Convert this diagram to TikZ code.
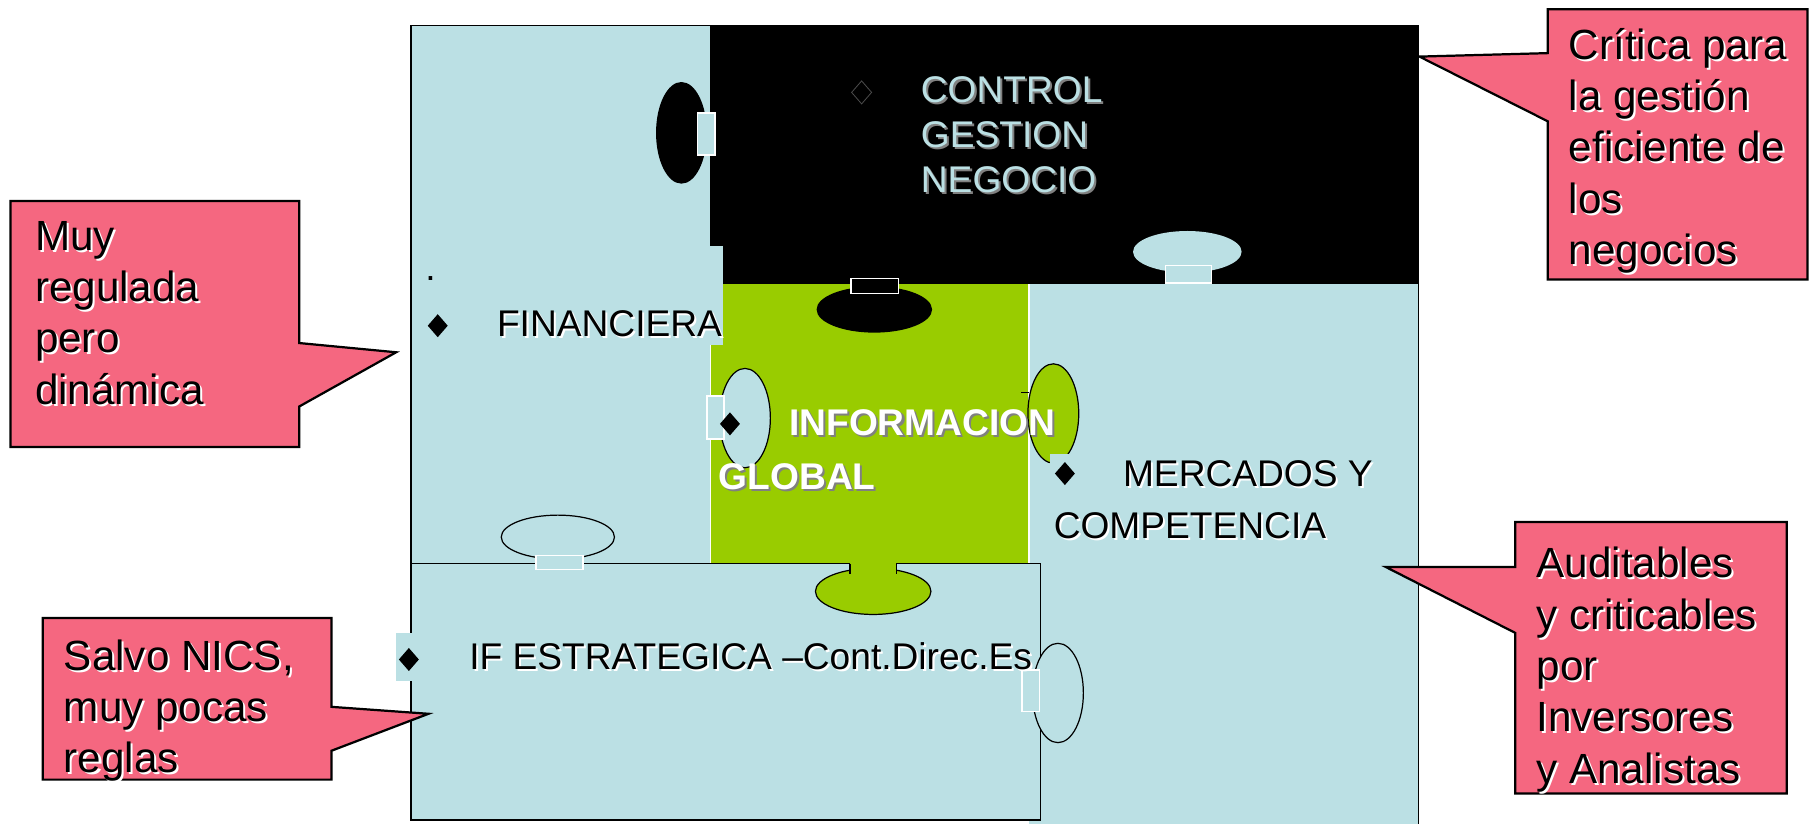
\documentclass[tikz,border=0pt]{standalone}
\usepackage{fontspec}
\setmainfont{Liberation Sans}
\usetikzlibrary{shapes.geometric}
\definecolor{paleblue}{RGB}{187,224,228}
\definecolor{leafgreen}{RGB}{153,204,0}
\definecolor{notepink}{RGB}{245,103,128}
\newcommand{\shd}[2]{\makebox[0pt][l]{\hspace{1pt}\raisebox{-1pt}{\textcolor{#1}{#2}}}#2}

\begin{document}
\begin{tikzpicture}[x=0.02cm,y=-0.02cm,
    bull/.style={diamond,fill=black,inner sep=0pt,minimum width=10pt,minimum height=11.5pt},
    maintext/.style={anchor=base west,inner sep=0pt,align=left,font=\fontsize{18.3}{22.2}\selectfont},
    boldtext/.style={maintext,text=white,font=\fontsize{18.3}{22.2}\selectfont\bfseries},
    notetext/.style={anchor=base west,inner sep=0pt,align=left,font=\fontsize{20.8}{25.3}\selectfont},
    notebox/.style={fill=notepink,draw=black,line width=1.1pt},
    tabrect/.style={fill=paleblue,draw=white,line width=0.8pt}]

    % Page
    \useasboundingbox (0,0) rectangle (1568,713);

    % Puzzle pieces
    \fill[paleblue] (356,22) rectangle (615,488);
    \fill[paleblue] (891,246) rectangle (1228,713);
    \fill[black] (615,22) rectangle (1228,246);
    \fill[leafgreen] (615,246) rectangle (891,488);
    \fill[paleblue] (356,213) rectangle (626,299);
    \draw[white,line width=0.6pt] (615,299) -- (615,488);
    \draw[white,line width=0.6pt] (891,246) -- (891,488);
    \draw[line width=0.8pt] (356,488) -- (356,22) -- (1228,22) -- (1228,713);

    % Tabs of the top piece
    \fill (590,115) ellipse [x radius=22,y radius=44];
    \filldraw[tabrect] (604,98) rectangle (619,134);
    \fill[paleblue] (1028,218) ellipse [x radius=47,y radius=18];
    \filldraw[tabrect] (1009,230) rectangle (1049,245);
    \fill (757,268) ellipse [x radius=50,y radius=20];
    \filldraw[tabrect,fill=black] (737,241) rectangle (778,254);

    % Tabs of the middle piece
    \filldraw[fill=paleblue,line width=0.6pt] (645,362) ellipse [x radius=22,y radius=43];
    \filldraw[tabrect] (612,343) rectangle (627,380);
    \filldraw[fill=leafgreen,line width=0.6pt] (912,358) ellipse [x radius=22,y radius=43];
    \draw[line width=0.6pt] (884,340) -- (891,340);
    \fill[paleblue] (909,393) rectangle (935,428);
    \filldraw[fill=paleblue,line width=0.6pt] (483,465) ellipse [x radius=49,y radius=19];

    % Bottom piece
    \filldraw[fill=paleblue,line width=0.8pt] (356,488) rectangle (901,710);
    \filldraw[tabrect] (464,481) rectangle (505,493);
    \filldraw[fill=leafgreen,line width=0.6pt] (756,512) ellipse [x radius=50,y radius=20];
    \fill[leafgreen] (736,487) rectangle (776,500);
    \draw[line width=0.6pt] (736,488) -- (736,497);
    \draw[line width=0.6pt] (776,488) -- (776,497);
    \filldraw[fill=paleblue,line width=0.6pt] (916,600) ellipse [x radius=22,y radius=43];
    \filldraw[tabrect] (885,580) rectangle (900,616);
    \fill[paleblue] (343,548) rectangle (358,590);

    % Piece labels (base = last line)
    \node[bull,draw=gray!60!black,line width=0.4pt] (b0) at (746,80) {};
    \node[maintext,text=paleblue] (ctrl) at (797,167) {\shd{gray}{CONTROL}\\\shd{gray}{GESTION}\\\shd{gray}{NEGOCIO}};
    \node[maintext] (dot) at (368,243) {.};
    \node[bull] (b1) at (379,282) {};
    \node[maintext] (fin) at (430,291) {\shd{white}{FINANCIERA}};
    \node[bull] (b2) at (632,367) {};
    \node[boldtext] (info) at (683,377) {\shd{gray}{INFORMACION}};
    \node[boldtext] (glob) at (622,424) {\shd{gray}{GLOBAL}};
    \node[bull] (b3) at (922,410) {};
    \node[maintext] (merc) at (972,421) {\shd{white}{MERCADOS Y}};
    \node[maintext] (comp) at (912,466) {\shd{white}{COMPETENCIA}};
    \node[bull] (b4) at (354,571) {};
    \node[maintext] (ife) at (406,580) {\shd{white}{IF ESTRATEGICA –Cont.Direc.Es}};

    % Notes
    \draw[notebox] (9,174) -- (259,174) -- (259,297) -- (343,305) -- (259,352) -- (259,387) -- (9,387) -- cycle;
    \node[notetext] (muy) at (30,350) {\shd{white}{Muy}\\\shd{white}{regulada}\\\shd{white}{pero}\\\shd{white}{dinámica}};

    \draw[notebox] (1340,8) -- (1565,8) -- (1565,242) -- (1340,242) -- (1340,105) -- (1229,49) -- (1340,46) -- cycle;
    \node[notetext] (crit) at (1358,229) {\shd{white}{Crítica para}\\\shd{white}{la gestión}\\\shd{white}{eficiente de}\\\shd{white}{los}\\\shd{white}{negocios}};

    \draw[notebox] (1312,452) -- (1547,452) -- (1547,687) -- (1312,687) -- (1312,548) -- (1200,491) -- (1312,491) -- cycle;
    \node[notetext] (audi) at (1330,678) {\shd{white}{Auditables}\\\shd{white}{y criticables}\\\shd{white}{por}\\\shd{white}{Inversores}\\\shd{white}{y Analistas}};

    \draw[notebox] (37,535) -- (287,535) -- (287,612) -- (371,618) -- (287,650) -- (287,675) -- (37,675) -- cycle;
    \node[notetext] (salvo) at (55,669) {\shd{white}{Salvo NICS,}\\\shd{white}{muy pocas}\\\shd{white}{reglas}};
\end{tikzpicture}
\end{document}
